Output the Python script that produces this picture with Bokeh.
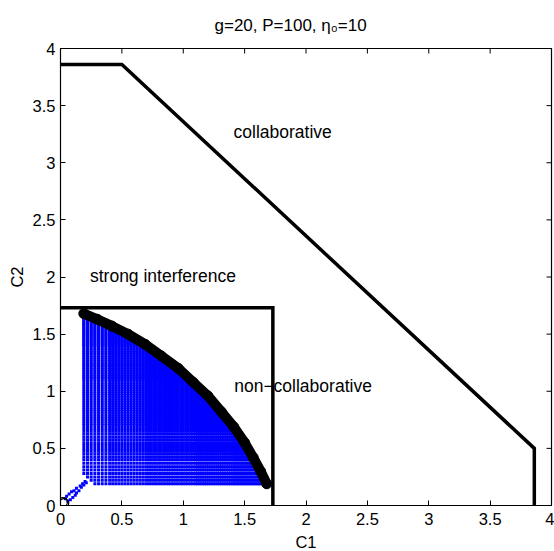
import numpy as np
from bokeh.plotting import figure
from bokeh.models import Range1d, FixedTicker, NumeralTickFormatter, Label
from bokeh.embed import file_html
from bokeh.resources import INLINE

# ---------------- data ----------------
x_ticks = [0, 0.5, 1, 1.5, 2, 2.5, 3, 3.5, 4]
y_ticks = [0, 0.5, 1, 1.5, 2, 2.5, 3, 3.5, 4]

# collaborative region boundary
collab_c1 = [0.0, 0.5, 3.86, 3.86]
collab_c2 = [3.86, 3.86, 0.5, 0.0]

# non-collaborative (orthogonal) region boundary
noncol_c1 = [0.0, 1.73, 1.73]
noncol_c2 = [1.73, 1.73, 0.0]

# strong-interference frontier (black circles)
front_c1 = [0.19, 0.30, 0.42, 0.55, 0.69, 0.82, 0.96, 1.08, 1.20, 1.31, 1.41, 1.50, 1.57, 1.63, 1.68]
front_c2 = [1.68, 1.63, 1.57, 1.50, 1.41, 1.31, 1.20, 1.08, 0.96, 0.82, 0.69, 0.55, 0.42, 0.30, 0.19]

# black circles at the origin
origin_c1 = [0.02, 0.03]
origin_c2 = [0.03, 0.02]

# achievable-rate grid levels (blue dots), same in C1 and C2
rate_levels = [0.19, 0.22, 0.25, 0.28, 0.31, 0.34, 0.37, 0.40, 0.425, 0.45, 0.475, 0.50,
               0.525, 0.55, 0.575, 0.60, 0.625, 0.65, 0.675, 0.70, 0.72, 0.74, 0.76, 0.78,
               0.80, 0.82, 0.84, 0.86, 0.88, 0.90, 0.92, 0.94, 0.96, 0.98, 1.00, 1.02, 1.04,
               1.06, 1.08, 1.10, 1.115, 1.13, 1.145, 1.16, 1.175, 1.19, 1.205, 1.22, 1.235,
               1.25, 1.265, 1.28, 1.295, 1.31, 1.325, 1.34, 1.355, 1.37, 1.385, 1.40, 1.412,
               1.424, 1.436, 1.448, 1.46, 1.472, 1.484, 1.496, 1.508, 1.52, 1.532, 1.544,
               1.556, 1.568, 1.58, 1.592, 1.604, 1.616, 1.628, 1.64, 1.652, 1.664, 1.676]
corner_sum = 0.46

# small diagonal run of blue dots near the origin
diag_c1 = [0.04, 0.05, 0.07, 0.09, 0.11, 0.13, 0.16, 0.18, 0.21]
diag_c2 = [0.06, 0.08, 0.10, 0.12, 0.13, 0.15, 0.17, 0.19, 0.20]

# ---------------- build the blue point cloud ----------------
lv = np.array(rate_levels)
gx, gy = np.meshgrid(lv, lv)
gx = gx.ravel(); gy = gy.ravel()
limit = np.interp(gx, front_c1, front_c2)
keep = (gy <= limit + 1e-9) & (gx + gy >= corner_sum)
blue_c1 = np.concatenate([gx[keep], diag_c1, diag_c2])
blue_c2 = np.concatenate([gy[keep], diag_c2, diag_c1])

FONT = "Liberation Sans"

p = figure(frame_width=491, frame_height=457, x_range=Range1d(0, 4), y_range=Range1d(0, 4),
           output_backend="svg", toolbar_location=None,
           min_border_left=60, min_border_right=3, min_border_top=47, min_border_bottom=47)
p.grid.visible = False
p.outline_line_color = "black"
p.outline_line_width = 1.2
p.background_fill_color = "white"
p.border_fill_color = "white"

# title (subscript via unicode)
p.title.text = "g=20, P=100, \u03b7\u2080=10"
p.title.align = "left"
p.title.offset = 154
p.title.standoff = 27
p.title.text_font = FONT
p.title.text_font_size = "17px"
p.title.text_font_style = "normal"
p.title.text_color = "black"

def style_axis(ax, ticks):
    ax.ticker = FixedTicker(ticks=ticks)
    ax.formatter = NumeralTickFormatter(format="0.[0]")
    ax.major_tick_in = 5
    ax.major_tick_out = 0
    ax.minor_tick_in = 0
    ax.minor_tick_out = 0
    ax.axis_line_color = "black"
    ax.major_tick_line_color = "black"
    ax.major_label_text_font = FONT
    ax.major_label_text_color = "black"
    ax.major_label_text_font_size = "16.5px"
    ax.axis_label_text_font = FONT
    ax.axis_label_text_font_style = "normal"
    ax.axis_label_text_color = "black"
    ax.axis_label_text_font_size = "16.5px"

style_axis(p.xaxis[0], x_ticks)
style_axis(p.yaxis[0], y_ticks)
p.xaxis[0].axis_label = "C1"
p.yaxis[0].axis_label = "C2"
p.xaxis[0].major_label_standoff = 7
p.yaxis[0].major_label_standoff = 5
p.xaxis[0].axis_label_standoff = 5
p.yaxis[0].axis_label_standoff = 4

# inward ticks on the top and right edges of the box (half of each dash is clipped)
p.scatter(x_ticks, [4] * len(x_ticks), marker="dash", angle=np.pi / 2, size=10,
          line_color="black", line_width=1)
p.scatter([4] * len(y_ticks), y_ticks, marker="dash", size=10,
          line_color="black", line_width=1)

# blue dots
p.scatter(blue_c1, blue_c2, marker="square", size=3, color="#0000ff", line_width=0)

# frontier (black circles, dense)
p.line(front_c1, front_c2, line_color="black", line_width=10, line_cap="round", line_join="round")
p.scatter(front_c1, front_c2, marker="circle", size=10, fill_color=None, line_color="black", line_width=1)
p.scatter(origin_c1, origin_c2, marker="circle", size=9, fill_color=None, line_color="black", line_width=1.2)

# region boundaries
p.line(collab_c1, collab_c2, line_color="black", line_width=3.5, line_join="miter")
p.line(noncol_c1, noncol_c2, line_color="black", line_width=3.5, line_join="miter")

# annotations
for txt, x, y in [("collaborative", 1.41, 3.27), ("strong interference", 0.24, 2.01),
                  ("non\u2212collaborative", 1.415, 1.043)]:
    p.add_layout(Label(x=x, y=y, text=txt, text_align="left", text_baseline="middle",
                       text_font=FONT, text_font_size="17.5px", text_color="black"))

open("out.html", "w").write(file_html(p, INLINE))
